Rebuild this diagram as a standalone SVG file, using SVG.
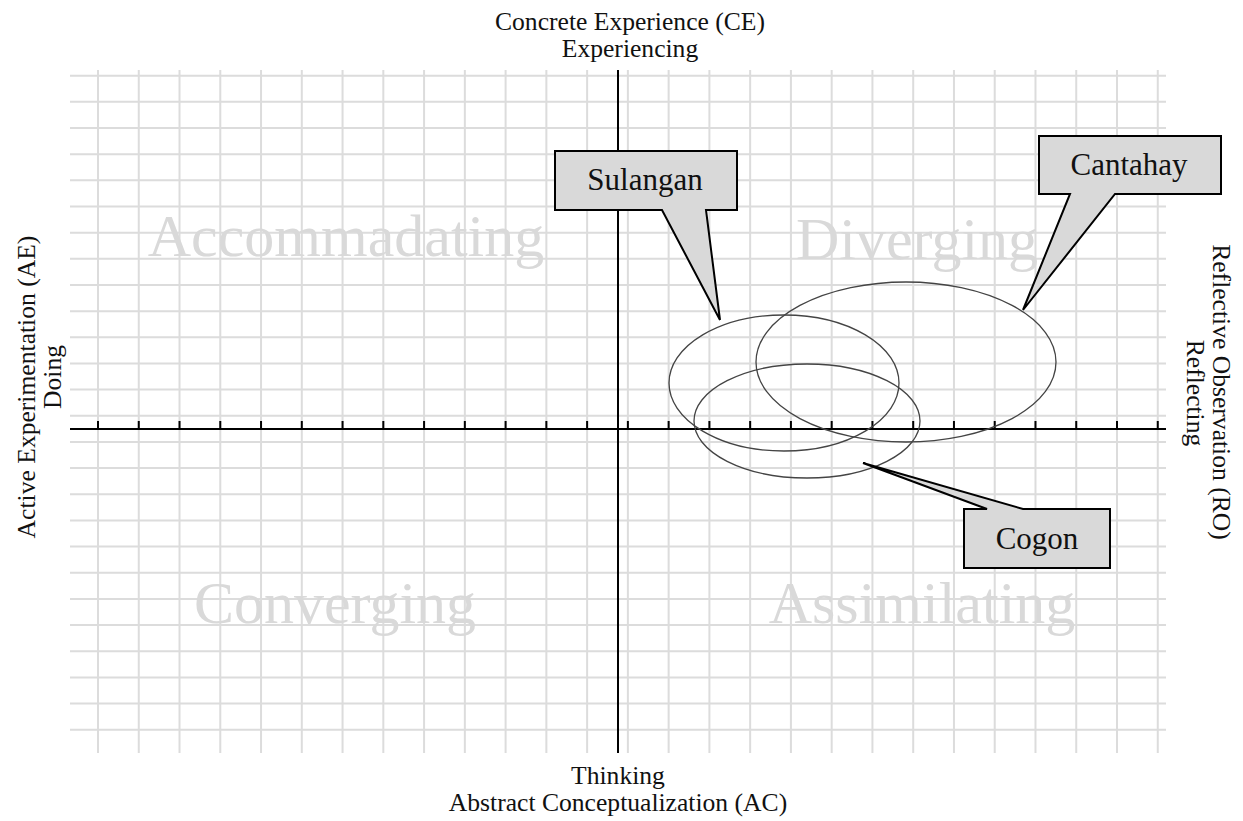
<svg xmlns="http://www.w3.org/2000/svg" width="1243" height="821" viewBox="0 0 1243 821">
<style>
.grid{stroke:#dcdcdc;stroke-width:2;fill:none}
.axis{stroke:#000;stroke-width:2;fill:none}
.lbl{font-size:25.6px;fill:#111;text-anchor:middle}
.quad{font-size:60px;fill:#d9d9d9;text-anchor:middle}
.ell{fill:none;stroke:#444;stroke-width:1.3}
.call{fill:#d9d9d9;stroke:#000;stroke-width:2;stroke-linejoin:miter}
.ctext{font-size:31px;fill:#111;text-anchor:middle}
</style>
<rect width="1243" height="821" fill="#fff"/>
<g id="grid">
<path class="grid" d="M98,70V753M138.76,70V753M179.52,70V753M220.28,70V753M261.04,70V753M301.8,70V753M342.56,70V753M383.32,70V753M424.08,70V753M464.84,70V753M505.6,70V753M546.36,70V753M587.12,70V753M627.88,70V753M668.64,70V753M709.4,70V753M750.16,70V753M790.92,70V753M831.68,70V753M872.44,70V753M913.2,70V753M953.96,70V753M994.72,70V753M1035.48,70V753M1076.24,70V753M1117,70V753M1157.76,70V753"/>
<path class="grid" d="M70,75.7H1166M70,101.86H1166M70,128.02H1166M70,154.18H1166M70,180.34H1166M70,206.5H1166M70,232.66H1166M70,258.82H1166M70,284.98H1166M70,311.14H1166M70,337.3H1166M70,363.46H1166M70,389.62H1166M70,415.78H1166M70,441.94H1166M70,468.1H1166M70,494.26H1166M70,520.42H1166M70,546.58H1166M70,572.74H1166M70,598.9H1166M70,625.06H1166M70,651.22H1166M70,677.38H1166M70,703.54H1166M70,729.7H1166"/>
</g>
<g id="quadrant-labels" font-family="Liberation Serif, DejaVu Serif, serif">
<text class="quad" x="346" y="256">Accommadating</text>
<text class="quad" x="917" y="259">Diverging</text>
<text class="quad" x="335" y="623">Converging</text>
<text class="quad" x="922" y="623">Assimilating</text>
</g>
<g id="axes">
<path class="axis" d="M70,429H1166M618,70V753"/>
<path class="axis" d="M98,421V429M138.76,421V429M179.52,421V429M220.28,421V429M261.04,421V429M301.8,421V429M342.56,421V429M383.32,421V429M424.08,421V429M464.84,421V429M505.6,421V429M546.36,421V429M587.12,421V429M627.88,421V429M668.64,421V429M709.4,421V429M750.16,421V429M790.92,421V429M831.68,421V429M872.44,421V429M913.2,421V429M953.96,421V429M994.72,421V429M1035.48,421V429M1076.24,421V429M1117,421V429M1157.76,421V429"/>
</g>
<g id="axis-labels" font-family="Liberation Serif, DejaVu Serif, serif">
<text class="lbl" x="630" y="29.5">Concrete Experience (CE)</text>
<text class="lbl" x="630" y="57">Experiencing</text>
<text class="lbl" x="618" y="784">Thinking</text>
<text class="lbl" x="618" y="811">Abstract Conceptualization (AC)</text>
<text class="lbl" transform="translate(35,387) rotate(-90)">Active Experimentation (AE)</text>
<text class="lbl" transform="translate(61,377) rotate(-90)">Doing</text>
<text class="lbl" transform="translate(1213,392) rotate(90)">Reflective Observation (RO)</text>
<text class="lbl" transform="translate(1187,393) rotate(90)">Reflecting</text>
</g>
<g id="ellipses">
<ellipse id="sulangan-ellipse" class="ell" cx="784" cy="383" rx="115" ry="68"/>
<ellipse id="cantahay-ellipse" class="ell" cx="906" cy="362" rx="150" ry="80"/>
<ellipse id="cogon-ellipse" class="ell" cx="807" cy="421" rx="113" ry="57"/>
</g>
<g id="sulangan" font-family="Liberation Serif, DejaVu Serif, serif">
<path class="call" d="M555,151H737V210H706L720,320L662,210H555Z"/>
<text class="ctext" x="645" y="190">Sulangan</text>
</g>
<g id="cantahay" font-family="Liberation Serif, DejaVu Serif, serif">
<path class="call" d="M1039,136H1221V194H1115L1023,310L1070,194H1039Z"/>
<text class="ctext" x="1129" y="175">Cantahay</text>
</g>
<g id="cogon" font-family="Liberation Serif, DejaVu Serif, serif">
<path class="call" d="M964,509H987L863,463L1023,509H1110V568H964Z"/>
<text class="ctext" x="1037" y="549">Cogon</text>
</g>
</svg>
